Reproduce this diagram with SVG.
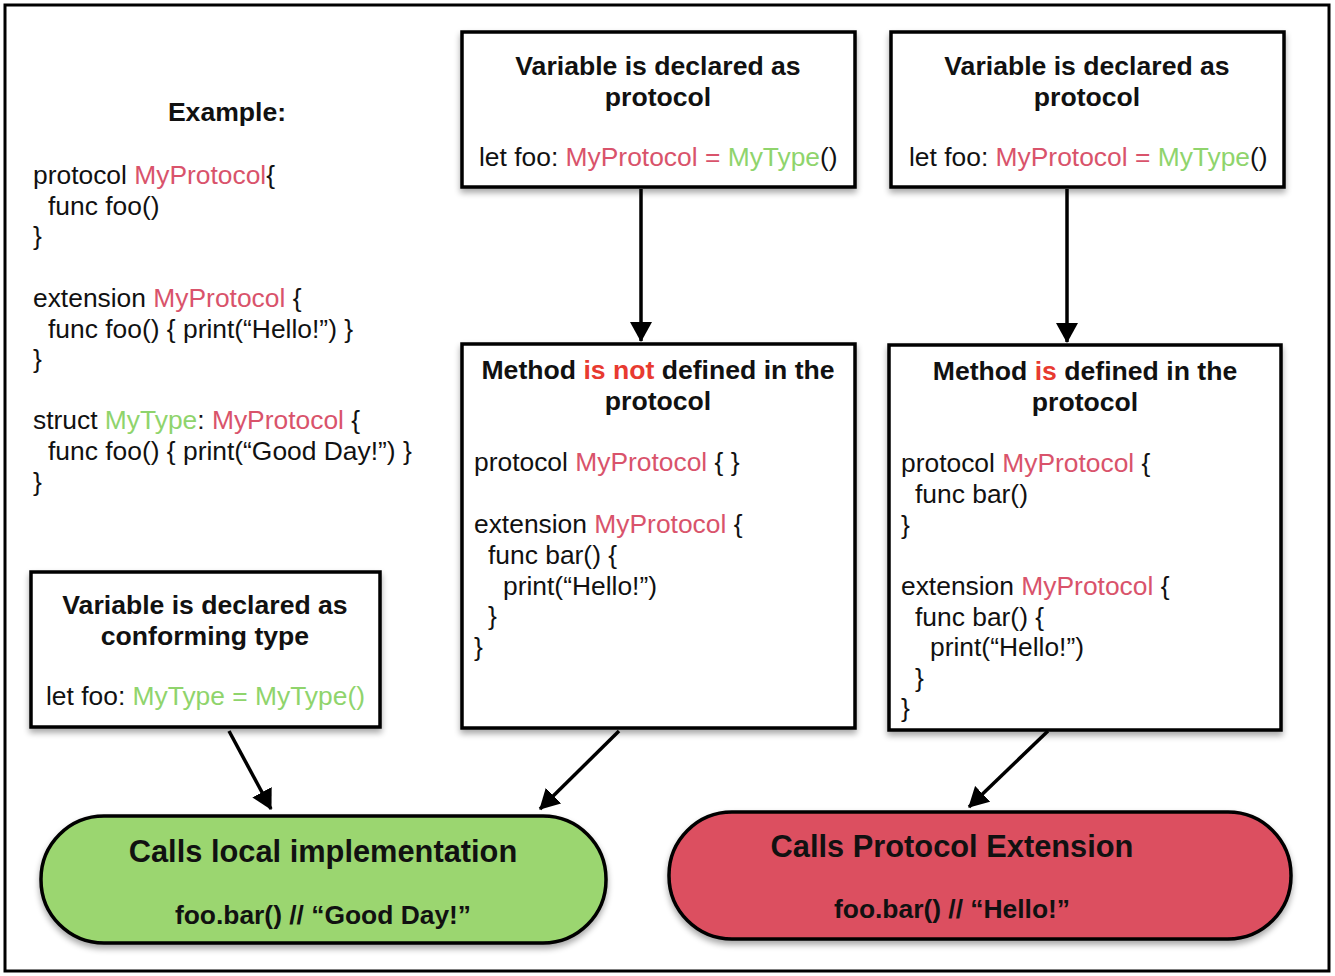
<svg xmlns="http://www.w3.org/2000/svg" width="1335" height="976" viewBox="0 0 1335 976">
<style>
text{font-family:"Liberation Sans",Arial,Helvetica,sans-serif;font-size:26.4px;fill:#111}
.b{font-weight:bold;font-size:26.6px}
.c{text-anchor:middle}
.p{fill:#d9536b}
.g{fill:#8fd46c}
.r{fill:#e83a30}
.box{fill:#fff;stroke:#000;stroke-width:3.5}
.conn{stroke:#000;stroke-width:3.5;fill:none}
</style>
<defs>
<filter id="sh" x="-10%" y="-10%" width="120%" height="130%">
<feGaussianBlur in="SourceAlpha" stdDeviation="3"/>
<feOffset dx="0" dy="4" result="o"/>
<feComponentTransfer><feFuncA type="linear" slope="0.35"/></feComponentTransfer>
<feMerge><feMergeNode/><feMergeNode in="SourceGraphic"/></feMerge>
</filter>
<marker id="ah" viewBox="0 0 20 22" refX="19" refY="11" markerWidth="20" markerHeight="22" orient="auto" markerUnits="userSpaceOnUse">
<path d="M0,0 L20,11 L0,22 z" fill="#000"/>
</marker>
</defs>
<rect x="0" y="0" width="1335" height="976" fill="#fff"/>
<rect x="5" y="5" width="1324" height="966" fill="none" stroke="#000" stroke-width="3"/>

<g id="example">
<text class="b c" x="227" y="121">Example:</text>
<text x="33" y="184">protocol <tspan class="p">MyProtocol</tspan>{</text>
<text x="48" y="215">func foo()</text>
<text x="33" y="245">}</text>
<text x="33" y="307">extension <tspan class="p">MyProtocol</tspan> {</text>
<text x="48" y="338">func foo() { print(“Hello!”) }</text>
<text x="33" y="368">}</text>
<text x="33" y="429">struct <tspan class="g">MyType</tspan>: <tspan class="p">MyProtocol</tspan> {</text>
<text x="48" y="460">func foo() { print(“Good Day!”) }</text>
<text x="33" y="491">}</text>
</g>

<g id="connectors">
<line class="conn" x1="641" y1="189" x2="641" y2="341" marker-end="url(#ah)"/>
<line class="conn" x1="1067" y1="189" x2="1067" y2="342" marker-end="url(#ah)"/>
<line class="conn" x1="229" y1="731" x2="271" y2="809" marker-end="url(#ah)"/>
<line class="conn" x1="619" y1="731" x2="540" y2="809" marker-end="url(#ah)"/>
<line class="conn" x1="1048" y1="731" x2="969" y2="807" marker-end="url(#ah)"/>
</g>

<g id="declProtocol1">
<rect class="box" x="462" y="32" width="393" height="155" filter="url(#sh)"/>
<text class="b c" x="658" y="75">Variable is declared as</text>
<text class="b c" x="658" y="106">protocol</text>
<text x="479" y="166">let foo: <tspan class="p">MyProtocol =</tspan> <tspan class="g">MyType</tspan>()</text>
</g>

<g id="declProtocol2">
<rect class="box" x="891" y="32" width="393" height="155" filter="url(#sh)"/>
<text class="b c" x="1087" y="75">Variable is declared as</text>
<text class="b c" x="1087" y="106">protocol</text>
<text x="909" y="166">let foo: <tspan class="p">MyProtocol =</tspan> <tspan class="g">MyType</tspan>()</text>
</g>

<g id="notDefined">
<rect class="box" x="462" y="344" width="393" height="384" filter="url(#sh)"/>
<text class="b c" x="658" y="379">Method <tspan class="r">is not</tspan> defined in the</text>
<text class="b c" x="658" y="410">protocol</text>
<text x="474" y="471">protocol <tspan class="p">MyProtocol</tspan> { }</text>
<text x="474" y="533">extension <tspan class="p">MyProtocol</tspan> {</text>
<text x="488" y="564">func bar() {</text>
<text x="503" y="595">print(“Hello!”)</text>
<text x="488" y="625">}</text>
<text x="474" y="656">}</text>
</g>

<g id="defined">
<rect class="box" x="889" y="345" width="392" height="385" filter="url(#sh)"/>
<text class="b c" x="1085" y="380">Method <tspan class="r">is</tspan> defined in the</text>
<text class="b c" x="1085" y="411">protocol</text>
<text x="901" y="472">protocol <tspan class="p">MyProtocol</tspan> {</text>
<text x="915" y="503">func bar()</text>
<text x="901" y="534">}</text>
<text x="901" y="595">extension <tspan class="p">MyProtocol</tspan> {</text>
<text x="915" y="626">func bar() {</text>
<text x="930" y="656">print(“Hello!”)</text>
<text x="915" y="687">}</text>
<text x="901" y="717">}</text>
</g>

<g id="declType">
<rect class="box" x="31" y="572" width="349" height="155" filter="url(#sh)"/>
<text class="b c" x="205" y="614">Variable is declared as</text>
<text class="b c" x="205" y="645">conforming type</text>
<text x="46" y="705">let foo: <tspan class="g">MyType = MyType()</tspan></text>
</g>

<g id="callsLocal">
<rect x="41" y="816" width="565" height="127" rx="63" ry="63" fill="#9bd66f" stroke="#000" stroke-width="3.5" filter="url(#sh)"/>
<text class="b c" x="323" y="862" style="font-size:30.8px">Calls local implementation</text>
<text class="b c" x="323" y="924" style="font-size:26.4px">foo.bar() // “Good Day!”</text>
</g>

<g id="callsExtension">
<rect x="669" y="812" width="622" height="127" rx="63" ry="63" fill="#dc4f61" stroke="#000" stroke-width="3.5" filter="url(#sh)"/>
<text class="b c" x="952" y="857" style="font-size:30.8px">Calls Protocol Extension</text>
<text class="b c" x="952" y="918" style="font-size:26.4px">foo.bar() // “Hello!”</text>
</g>
</svg>
